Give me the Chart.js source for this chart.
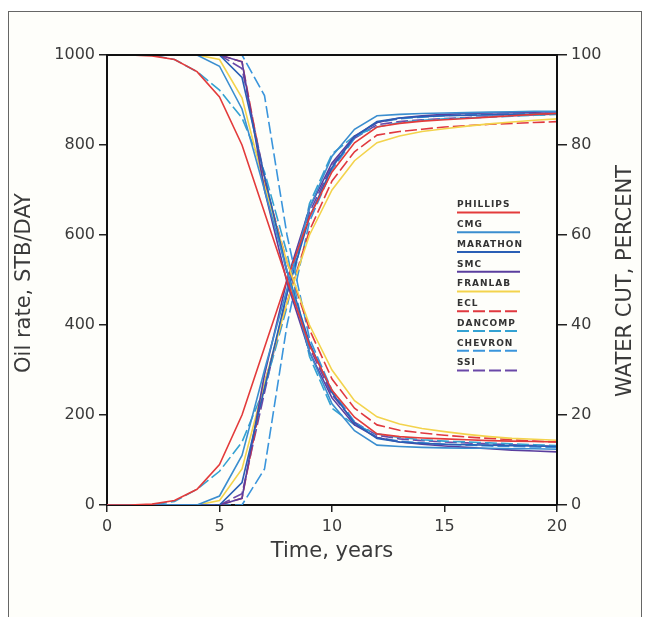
<!DOCTYPE html>
<html lang="en">
<head>
<meta charset="UTF-8" />
<title>Oil rate and water cut</title>
<script src="https://cdn.jsdelivr.net/npm/chart.js"></script>
<style>
  html, body { margin: 0; padding: 0; background: #fff; }
  .frame {
    position: absolute; left: 8px; top: 11px;
    width: 632px; height: 620px;
    border: 1px solid #666; background: #fefefa;
  }
  #chart { position: absolute; left: 0; top: 0; }
</style>
</head>
<body>
<div class="frame"></div>
<canvas id="chart" width="648" height="617"></canvas>
<script>
// time axis, years
const years = [0,1,2,3,4,5,6,7,8,9,10,11,12,13,14,15,16,17,18,19,20];

// companies, in legend order
const names = ['PHILLIPS','CMG','MARATHON','SMC','FRANLAB','ECL','DANCOMP','CHEVRON','SSI'];

// oil rate, STB/DAY
const oilPhillips = [1000,1000,998,990,963,907,800,650,500,355,255,195,158,152,149,147,145,143,142,141,140];
const oilCmg      = [1000,1000,1000,1000,1000,975,880,700,520,340,225,165,133,130,128,127,126,126,125,125,124];
const oilMarathon = [1000,1000,1000,1000,1000,1000,950,730,520,360,250,182,148,140,137,135,134,133,132,131,130];
const oilSmc      = [1000,1000,1000,1000,1000,1000,985,700,495,340,238,178,150,140,135,131,128,125,122,120,118];
const oilFranlab  = [1000,1000,1000,1000,1000,990,905,710,540,400,300,232,196,180,170,163,157,152,148,146,144];
const oilEcl      = [1000,1000,1000,1000,1000,1000,985,720,540,390,280,215,178,166,160,155,151,148,145,142,140];
const oilDancomp  = [1000,1000,1000,990,963,922,860,740,560,330,215,178,158,150,145,142,140,138,136,134,132];
const oilChevron  = [1000,1000,1000,1000,1000,1000,1000,910,600,370,255,185,150,142,138,135,133,131,130,129,128];
const oilSsi      = [1000,1000,1000,1000,1000,1000,970,730,515,350,245,184,155,147,143,140,138,136,134,132,130];

// water cut, percent
const wcPhillips = [0,0,0.2,1,3.5,9,20,35,50,64,74,80.5,84,84.8,85.3,85.6,85.9,86.2,86.5,86.8,87];
const wcCmg      = [0,0,0,0,0,2,11,30,48,66,77.5,83.5,86.5,86.8,87,87.1,87.2,87.3,87.4,87.5,87.5];
const wcMarathon = [0,0,0,0,0,0,5,26,47,64,75,81.8,85.2,86,86.3,86.5,86.6,86.7,86.8,86.9,87];
const wcSmc      = [0,0,0,0,0,0,1.5,29,50,66,76,82,85,86,86.5,86.8,87,87.1,87.2,87.3,87.4];
const wcFranlab  = [0,0,0,0,0,1,8,27,45,60,70,76.5,80.5,82,83,83.6,84.2,84.7,85.1,85.5,85.8];
const wcEcl      = [0,0,0,0,0,0,1.5,27,45,61,72,78.5,82.2,83,83.5,84,84.3,84.6,84.8,85,85.2];
const wcDancomp  = [0,0,0,0.8,3.5,7.5,14,26,44,67,78,82,84,85,85.5,85.8,86,86.2,86.4,86.6,86.8];
const wcChevron  = [0,0,0,0,0,0,0,8,40,63,74.5,81.5,85,85.8,86.2,86.5,86.7,86.8,86.9,87,87.1];
const wcSsi      = [0,0,0,0,0,0,2.5,25,47,65,75.5,81.5,84.5,85.2,85.6,85.9,86.1,86.3,86.5,86.7,86.9];

const oilSeries = [oilPhillips, oilCmg, oilMarathon, oilSmc, oilFranlab, oilEcl, oilDancomp, oilChevron, oilSsi];
const wcSeries  = [wcPhillips, wcCmg, wcMarathon, wcSmc, wcFranlab, wcEcl, wcDancomp, wcChevron, wcSsi];

// line styles
const lineColors = ['#e33b3b','#3b8ecf','#2a5fb5','#5a3e9e','#f3d34c','#e0393f','#34a2d2','#3a95dc','#6a48a8'];
const lineDashes = [[],[],[],[],[],[12,4],[12,4],[12,4],[12,4]];

const textColor = '#3a3a3a';
const fontFamily = "'DejaVu Sans', sans-serif";

function points(arr) {
  return years.map((t, i) => ({ x: t, y: arr[i] }));
}

const datasets = [];
names.forEach((n, i) => {
  datasets.push({
    label: n + ' oil', data: points(oilSeries[i]), yAxisID: 'y',
    borderColor: lineColors[i], borderDash: lineDashes[i]
  });
});
names.forEach((n, i) => {
  datasets.push({
    label: n + ' water cut', data: points(wcSeries[i]), yAxisID: 'y2',
    borderColor: lineColors[i], borderDash: lineDashes[i]
  });
});

const decorations = {
  id: 'decorations',
  afterDraw(chart) {
    const ctx = chart.ctx;
    const a = chart.chartArea;
    ctx.save();
    // top and right frame of the plot
    ctx.strokeStyle = '#111';
    ctx.lineWidth = 2;
    ctx.beginPath();
    ctx.moveTo(a.left, a.top);
    ctx.lineTo(a.right, a.top);
    ctx.lineTo(a.right, a.bottom);
    ctx.stroke();

    // axis titles
    ctx.fillStyle = textColor;
    ctx.textAlign = 'center';
    ctx.textBaseline = 'middle';
    ctx.font = '21px ' + fontFamily;
    ctx.save();
    ctx.translate(25, 283);
    ctx.rotate(-Math.PI / 2);
    ctx.fillText('Oil rate, STB/DAY', 0, 0);
    ctx.restore();
    ctx.save();
    ctx.translate(626, 281);
    ctx.rotate(-Math.PI / 2);
    ctx.fillText('WATER CUT, PERCENT', 0, 0);
    ctx.restore();
    ctx.fillText('Time, years', 332, 552);

    // legend: name over a line sample
    ctx.textAlign = 'left';
    ctx.font = 'bold 9px ' + fontFamily;
    ctx.letterSpacing = '1px';
    names.forEach((n, i) => {
      const ty = 205 + i * 19.75;
      ctx.fillStyle = '#333';
      ctx.fillText(n, 457, ty);
      ctx.strokeStyle = lineColors[i];
      ctx.lineWidth = 2;
      ctx.setLineDash(lineDashes[i]);
      ctx.beginPath();
      ctx.moveTo(457, ty + 7.5);
      ctx.lineTo(520, ty + 7.5);
      ctx.stroke();
    });
    ctx.restore();
  }
};

const tickFont = { family: fontFamily, size: 16 };

new Chart(document.getElementById('chart'), {
  type: 'line',
  data: { datasets },
  options: {
    responsive: false,
    animation: false,
    layout: { padding: { top: 55, left: 0, right: 0, bottom: 0 } },
    elements: {
      point: { radius: 0 },
      line: { borderWidth: 1.6, tension: 0, fill: false }
    },
    plugins: { legend: { display: false }, tooltip: { enabled: false } },
    scales: {
      x: {
        type: 'linear', min: 0, max: 20,
        afterFit: s => { s.height = 112; },
        ticks: { stepSize: 5, padding: 5, color: textColor, font: tickFont, callback: v => String(v) },
        grid: { drawOnChartArea: false, tickLength: 7, color: '#222', lineWidth: 1.5 },
        border: { color: '#111', width: 2 }
      },
      y: {
        position: 'left', min: 0, max: 1000,
        afterFit: s => { s.width = 107; },
        ticks: { stepSize: 200, padding: 4, color: textColor, font: tickFont, callback: v => String(v) },
        grid: { drawOnChartArea: false, tickLength: 8, color: '#222', lineWidth: 1.5 },
        border: { color: '#111', width: 2 }
      },
      y2: {
        position: 'right', min: 0, max: 100,
        afterFit: s => { s.width = 91; },
        ticks: { stepSize: 20, padding: 4, color: textColor, font: tickFont, callback: v => String(v) },
        grid: { drawOnChartArea: false, tickLength: 10, color: '#222', lineWidth: 1.5 },
        border: { color: '#111', width: 2 }
      }
    }
  },
  plugins: [decorations]
});
</script>
</body>
</html>
